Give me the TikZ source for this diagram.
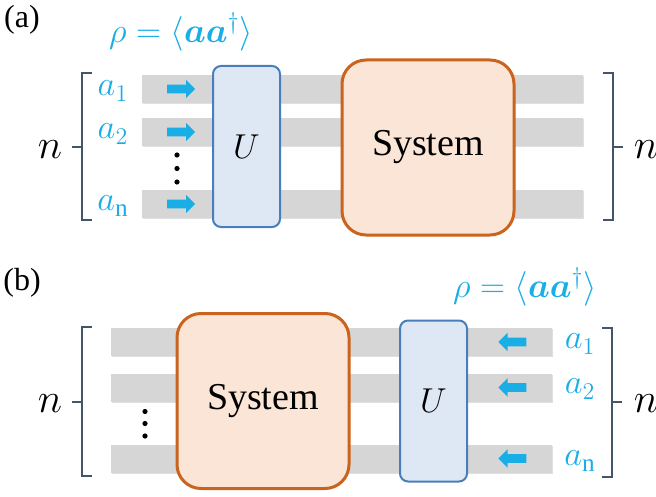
\documentclass[tikz,border=0pt]{standalone}
\usepackage{amsmath,bm}
\usepackage{fontspec}
\setmainfont{Liberation Serif}
\usetikzlibrary{shapes.arrows,shadows,positioning}
\definecolor{ink}{HTML}{44546A}
\definecolor{modecyan}{HTML}{1AAEE6}
\definecolor{barfill}{HTML}{D6D6D6}
\definecolor{gateedge}{HTML}{4A7EBB}
\definecolor{gatewash}{HTML}{DEE8F5}
\definecolor{sysedge}{HTML}{C9631D}
\definecolor{syswash}{HTML}{FBE5D6}
\tikzset{
bar/.style={fill=barfill,minimum width=220.5pt,minimum height=14pt,inner sep=0pt,drop shadow={shadow xshift=.6pt,shadow yshift=-.6pt,opacity=.25}},
gate/.style={draw=gateedge,fill=gatewash,line width=1pt,rounded corners=4pt,minimum width=33.5pt,minimum height=80.5pt,font=\fontsize{18}{18}\selectfont},
sysbox/.style={draw=sysedge,fill=syswash,line width=1.5pt,rounded corners=12pt,minimum width=86pt,minimum height=87.5pt,font=\fontsize{19}{19}\selectfont},
inarrow/.style={single arrow,fill=modecyan,minimum height=14pt,minimum width=8.5pt,inner sep=2pt,single arrow head extend=2.4pt},
mode/.style={text=modecyan,font=\fontsize{18}{18}\selectfont,inner sep=0pt},
corr/.style={text=modecyan,font=\fontsize{18.5}{18.5}\selectfont,inner sep=0pt},
count/.style={font=\fontsize{21}{21}\selectfont,inner sep=0pt},
tag/.style={font=\fontsize{16}{16}\selectfont,inner sep=0pt},
brk/.style={draw=ink,line width=1pt}}
\begin{document}
\begin{tikzpicture}[x=0.5pt,y=-0.5pt]
\useasboundingbox (0,0) rectangle (656,496);
% (a) modes enter from the left
\node[tag] (tagA) at (22,20) {(a)};
\node[corr] (rhoA) at (181,32) {$\rho=\langle\bm{a}\bm{a}^{\dagger}\rangle$};
\node[bar] (barA1) at (362.5,89) {};
\node[bar] (barA2) at (362.5,132) {};
\node[bar] (barAn) at (362.5,204) {};
\node[gate] (gateA) at (246.5,146.5) {$U$};
\node[sysbox] (sysA) at (428,147.5) {System};
\node[inarrow] (inA1) at (179,89) {};
\node[inarrow] (inA2) at (179,132) {};
\node[inarrow] (inAn) at (179,204) {};
\foreach \y in {155,168.5,182} \fill (177,\y) circle (1.3pt);
\node[mode] (aA1) at (113,91) {$a_1$};
\node[mode] (aA2) at (113,134) {$a_2$};
\node[mode] (aAn) at (113,206) {$a_{\mathrm{n}}$};
\draw[brk] (92,73) -- (82,73) -- (82,220) -- (92,220);
\draw[brk] (82,147) -- (72,147);
\draw[brk] (603,73) -- (613,73) -- (613,220) -- (603,220);
\draw[brk] (613,147) -- (623,147);
\node[count] (nA) at (50,150) {$n$};
\node[count] (nA') at (646,150) {$n$};
% (b) modes enter from the right
\node[tag] (tagB) at (22,283) {(b)};
\node[corr] (rhoB) at (525,287) {$\rho=\langle\bm{a}\bm{a}^{\dagger}\rangle$};
\node[bar] (barB1) at (331,342) {};
\node[bar] (barB2) at (331,387.5) {};
\node[bar] (barBn) at (331,458.5) {};
\node[sysbox] (sysB) at (263,401) {System};
\node[gate] (gateB) at (433.5,401) {$U$};
\node[inarrow,shape border rotate=180] (inB1) at (514.5,342) {};
\node[inarrow,shape border rotate=180] (inB2) at (514.5,387.5) {};
\node[inarrow,shape border rotate=180] (inBn) at (514.5,458.5) {};
\foreach \y in {411.5,423.5,436} \fill (145,\y) circle (1.3pt);
\node[mode] (aB1) at (580,344) {$a_1$};
\node[mode] (aB2) at (580,389) {$a_2$};
\node[mode] (aBn) at (580,461) {$a_{\mathrm{n}}$};
\draw[brk] (92,327) -- (82,327) -- (82,476) -- (92,476);
\draw[brk] (82,402) -- (72,402);
\draw[brk] (602,328) -- (612,328) -- (612,477) -- (602,477);
\draw[brk] (612,402) -- (622,402);
\node[count] (nB) at (50,404) {$n$};
\node[count] (nB') at (646,404) {$n$};
\end{tikzpicture}
\end{document}
